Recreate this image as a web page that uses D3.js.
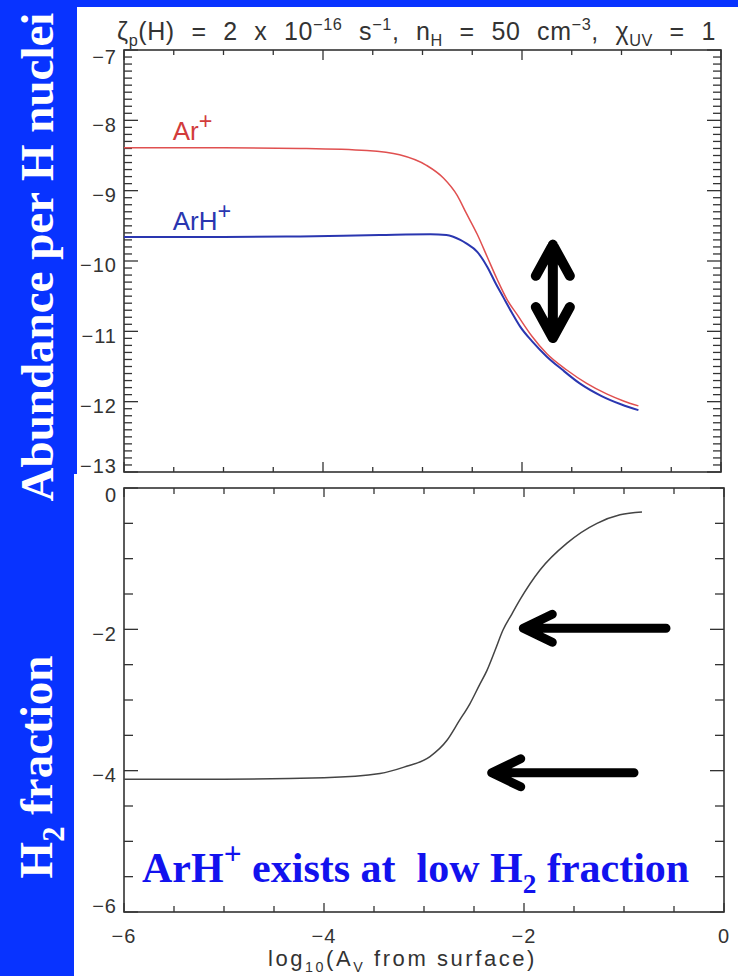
<!DOCTYPE html>
<html>
<head>
<meta charset="utf-8">
<script src="https://cdn.jsdelivr.net/npm/d3@7"></script>
<style>
  body { margin: 0; background: #fff; }
  svg { display: block; }
  text { white-space: pre; }
</style>
</head>
<body>
<svg id="chart"></svg>
<script>
// ---- data ----
var arX = [-6, -5, -4.23, -3.56, -3.23, -2.96, -2.79, -2.65, -2.56, -2.45, -2.35, -2.25, -2.15, -2.05, -1.9, -1.75, -1.55, -1.35, -1.15, -0.98, -0.83];
var arY = [-8.39, -8.39, -8.40, -8.43, -8.49, -8.64, -8.82, -9.07, -9.32, -9.62, -9.94, -10.26, -10.55, -10.76, -11.07, -11.32, -11.55, -11.74, -11.89, -11.99, -12.06];

var arhX = [-6, -5, -4.23, -3.43, -2.92, -2.76, -2.62, -2.56, -2.45, -2.35, -2.26, -2.19, -2.1, -2.02, -1.9, -1.75, -1.6, -1.42, -1.2, -1.0, -0.83];
var arhY = [-9.66, -9.66, -9.65, -9.63, -9.62, -9.63, -9.70, -9.75, -9.87, -10.08, -10.33, -10.51, -10.74, -10.93, -11.14, -11.36, -11.54, -11.74, -11.92, -12.04, -12.12];

var h2X = [-6, -5, -4, -3.44, -3.2, -2.94, -2.77, -2.65, -2.54, -2.45, -2.37, -2.29, -2.21, -2.12, -2.04, -1.84, -1.57, -1.27, -1.04, -0.82];
var h2Y = [-4.12, -4.12, -4.10, -4.04, -3.95, -3.80, -3.57, -3.30, -3.05, -2.80, -2.58, -2.30, -2.01, -1.78, -1.58, -1.16, -0.78, -0.50, -0.38, -0.34];

var xTickLabels = [-6, -4, -2, 0];
var topYTickLabels = [-7, -8, -9, -10, -11, -12, -13];
var botYTickLabels = [0, -2, -4, -6];

// annotation arrows, in data units
var doubleArrow = { x: -1.69, y0: -9.77, y1: -11.095 };
var leftArrows = [
  { x0: -0.58, x1: -2.007, y: -1.985 },
  { x0: -0.90, x1: -2.323, y: -4.03 }
];

var width = 738,
  height = 976;

var svg = d3.select('#chart')
  .attr('width', width)
  .attr('height', height);

var textGray = '#333';
var blueBar = '#0833ff';
var sans = 'Liberation Sans, Arial, sans-serif';
var serif = 'Liberation Serif, Times New Roman, serif';

// scales
var xTop = d3.scaleLinear().domain([-6, 0]).range([124, 721]);
var yTop = d3.scaleLinear().domain([-7, -13]).range([50, 472]);
var xBot = d3.scaleLinear().domain([-6, 0]).range([124, 724]);
var yBot = d3.scaleLinear().domain([0, -6]).range([488, 912]);

function rich(sel, parts, size, supScale) {
  // parts: [text, 'n' | 'sup' | 'sub']
  var off = 0;
  parts.forEach(function(p) {
    var target = p[1] === 'sup' ? -size * 0.42 : (p[1] === 'sub' ? size * 0.25 : 0);
    var fs = p[1] === 'n' ? size : size * (p[1] === 'sup' && supScale ? supScale : 0.65);
    sel.append('tspan')
      .attr('dy', target - off)
      .attr('font-size', fs)
      .text(p[0]);
    off = target;
  });
}

// stretch a text to a given width with word- or letter-spacing
function fitWidth(sel, target, attr, count) {
  var sp = 0;
  for (var k = 0; k < 3; k++) {
    var w = sel.node().getBBox().width;
    sp += (target - w) / count;
    sel.attr(attr, Math.max(0, sp));
  }
}

function drawAxes(x, y, yMinorStep, yMajor, xMinorLen, xMajorLen, yMinorLen, yMajorLen) {
  var g = svg.append('g');
  var x0 = x.range()[0], x1 = x.range()[1];
  var y0 = y.range()[0], y1 = y.range()[1];

  var xMinor = d3.range(-6, 0.001, 0.5);
  var yDom = y.domain();
  var yMinor = d3.range(0, Math.round((yDom[0] - yDom[1]) / yMinorStep) + 1)
    .map(function(i) { return yDom[0] - i * yMinorStep; });

  // bottom & top x ticks (inward)
  [[y1, -1], [y0, 1]].forEach(function(s) {
    g.selectAll(null)
      .data(xMinor)
      .enter().append('line')
      .attr('x1', function(d) { return x(d); })
      .attr('x2', function(d) { return x(d); })
      .attr('y1', s[0])
      .attr('y2', function(d) {
        var len = (Math.abs(d % 2) < 1e-6) ? xMajorLen : xMinorLen;
        return s[0] + s[1] * len;
      })
      .attr('stroke', textGray)
      .attr('stroke-width', 1.3);
  });

  // left & right y ticks (inward)
  [[x0, 1], [x1, -1]].forEach(function(s) {
    g.selectAll(null)
      .data(yMinor)
      .enter().append('line')
      .attr('y1', function(d) { return y(d); })
      .attr('y2', function(d) { return y(d); })
      .attr('x1', s[0])
      .attr('x2', function(d) {
        var len = yMajor.some(function(m) { return Math.abs(m - d) < 1e-6; }) ? yMajorLen : yMinorLen;
        return s[0] + s[1] * len;
      })
      .attr('stroke', textGray)
      .attr('stroke-width', 1.3);
  });

  g.append('rect')
    .attr('x', x0)
    .attr('y', y0)
    .attr('width', x1 - x0)
    .attr('height', y1 - y0)
    .attr('fill', 'none')
    .attr('stroke', textGray)
    .attr('stroke-width', 1.6);

  // y tick labels
  g.selectAll(null)
    .data(yMajor)
    .enter().append('text')
    .attr('x', 117)
    .attr('y', function(d) {
      var c = y(d) + 4;
      return Math.max(y0 + 7, Math.min(y1 - 6, c));
    })
    .attr('dy', '0.36em')
    .attr('text-anchor', 'end')
    .attr('font-family', sans)
    .attr('font-size', 20)
    .attr('letter-spacing', 1)
    .attr('fill', textGray)
    .text(d3.format('d'));
  return g;
}

// ---- top panel ----
drawAxes(xTop, yTop, 0.1, topYTickLabels, 5, 10, 8, 14);

var lineTop = d3.line()
  .x(function(d) { return xTop(d[0]); })
  .y(function(d) { return yTop(d[1]); })
  .curve(d3.curveMonotoneX);

svg.append('path')
  .datum(d3.zip(arhX, arhY))
  .attr('d', lineTop)
  .attr('fill', 'none')
  .attr('stroke', '#2a36b0')
  .attr('stroke-width', 2);

svg.append('path')
  .datum(d3.zip(arX, arY))
  .attr('d', lineTop)
  .attr('fill', 'none')
  .attr('stroke', '#e05050')
  .attr('stroke-width', 1.5);

var arLab = svg.append('text')
  .attr('x', xTop(-5.51))
  .attr('y', yTop(-8.28))
  .attr('font-family', sans)
  .attr('fill', '#d23c3c');
rich(arLab, [['Ar', 'n'], ['+', 'sup']], 26, 0.9);

var arhLab = svg.append('text')
  .attr('x', xTop(-5.51))
  .attr('y', yTop(-9.56))
  .attr('font-family', sans)
  .attr('fill', '#2a36b0');
rich(arhLab, [['ArH', 'n'], ['+', 'sup']], 26, 0.9);

// ---- bottom panel ----
drawAxes(xBot, yBot, 0.5, botYTickLabels, 6, 9, 9, 14);

var lineBot = d3.line()
  .x(function(d) { return xBot(d[0]); })
  .y(function(d) { return yBot(d[1]); })
  .curve(d3.curveMonotoneX);

svg.append('path')
  .datum(d3.zip(h2X, h2Y))
  .attr('d', lineBot)
  .attr('fill', 'none')
  .attr('stroke', '#444')
  .attr('stroke-width', 1.5);

svg.selectAll('.xlab')
  .data(xTickLabels)
  .enter().append('text')
  .attr('class', 'xlab')
  .attr('x', function(d) { return xBot(d); })
  .attr('y', 943)
  .attr('text-anchor', 'middle')
  .attr('font-family', sans)
  .attr('font-size', 20)
  .attr('letter-spacing', 1)
  .attr('fill', textGray)
  .text(d3.format('d'));

var xTitle = svg.append('text')
  .attr('x', 268)
  .attr('y', 966)
  .attr('font-family', sans)
  .attr('fill', textGray);
rich(xTitle, [['log', 'n'], ['10', 'sub'], ['(A', 'n'], ['V', 'sub'], [' from surface)', 'n']], 22);
fitWidth(xTitle, 269, 'letter-spacing', 22);

// ---- arrows ----
var arrowG = svg.append('g')
  .attr('fill', 'none')
  .attr('stroke', '#000')
  .attr('stroke-linecap', 'round')
  .attr('stroke-linejoin', 'round');

var ax = xTop(doubleArrow.x), ay0 = yTop(doubleArrow.y0), ay1 = yTop(doubleArrow.y1);
arrowG.append('path')
  .attr('stroke-width', 10)
  .attr('d', 'M' + ax + ',' + ay0 + 'L' + ax + ',' + ay1 +
    'M' + (ax - 17) + ',' + (ay0 + 31) + 'L' + ax + ',' + ay0 + 'L' + (ax + 17) + ',' + (ay0 + 31) +
    'M' + (ax - 17) + ',' + (ay1 - 31) + 'L' + ax + ',' + ay1 + 'L' + (ax + 17) + ',' + (ay1 - 31));

arrowG.selectAll('.larrow')
  .data(leftArrows)
  .enter().append('path')
  .attr('class', 'larrow')
  .attr('stroke-width', 9)
  .attr('d', function(d) {
    var t = xBot(d.x1), tl = xBot(d.x0), yy = yBot(d.y);
    return 'M' + tl + ',' + yy + 'L' + (t + 2) + ',' + yy +
      'M' + (t + 29) + ',' + (yy - 14) + 'L' + t + ',' + yy + 'L' + (t + 29) + ',' + (yy + 14);
  });

// ---- title ----
var title = svg.append('text')
  .attr('x', 117)
  .attr('y', 40)
  .attr('font-family', sans)
  .attr('fill', textGray)
  .attr('letter-spacing', 0.6);
rich(title, [
  ['\u03b6', 'n'], ['p', 'sub'], ['(H) = 2 x 10', 'n'], ['\u221216', 'sup'],
  [' s', 'n'], ['\u22121', 'sup'], [', n', 'n'], ['H', 'sub'],
  [' = 50 cm', 'n'], ['\u22123', 'sup'], [', \u03c7', 'n'], ['UV', 'sub'], [' = 1', 'n']
], 25);
// spread the words to the width of the frame, as in the original
fitWidth(title, 599, 'word-spacing', 13);

// ---- blue frame ----
svg.append('rect').attr('x', 0).attr('y', 0).attr('width', width).attr('height', 7).attr('fill', blueBar);
svg.append('rect').attr('x', 0).attr('y', 0).attr('width', 77).attr('height', 474).attr('fill', blueBar);
svg.append('rect').attr('x', 0).attr('y', 474).attr('width', 74).attr('height', height - 474).attr('fill', blueBar);

svg.append('text')
  .attr('transform', 'translate(53,257) rotate(-90)')
  .attr('text-anchor', 'middle')
  .attr('font-family', serif)
  .attr('font-weight', 'bold')
  .attr('font-size', 47)
  .attr('fill', '#fff')
  .text('Abundance per H nuclei');

var h2Lab = svg.append('text')
  .attr('transform', 'translate(52,767) rotate(-90)')
  .attr('text-anchor', 'middle')
  .attr('font-family', serif)
  .attr('font-weight', 'bold')
  .attr('fill', '#fff');
rich(h2Lab, [['H', 'n'], ['2', 'sub'], [' fraction', 'n']], 47);

var note = svg.append('text')
  .attr('x', 142)
  .attr('y', 882)
  .attr('font-family', serif)
  .attr('font-weight', 'bold')
  .attr('fill', '#1212ee');
rich(note, [['ArH', 'n'], ['+', 'sup'], [' exists at  low H', 'n'], ['2', 'sub'], [' fraction', 'n']], 42, 0.75);
</script>
</body>
</html>
